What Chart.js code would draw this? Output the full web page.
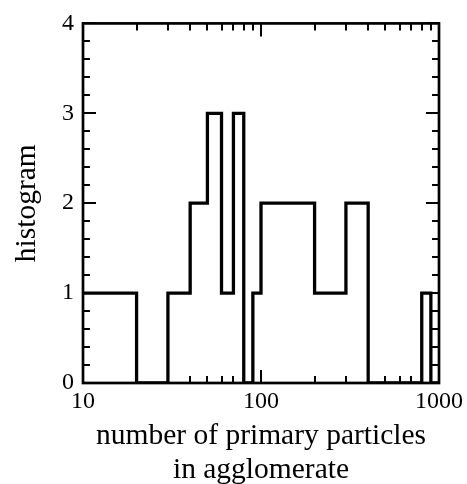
<!DOCTYPE html>
<html>
<head>
<meta charset="utf-8">
<script src="https://cdn.jsdelivr.net/npm/chart.js@4/dist/chart.umd.min.js"></script>
<style>
  html, body { margin: 0; padding: 0; background: #fff; }
  canvas { display: block; }
</style>
</head>
<body>
<canvas id="chart" width="467" height="484"></canvas>
<script>
// bin edges (number of primary particles) and the count in each bin
const binEdges = [10, 20, 30, 40, 50, 60, 70, 80, 90, 100, 200, 300, 400, 500, 600, 700, 800, 900, 1000];
const binCounts = [1, 0, 1, 2, 3, 1, 3, 0, 1, 2, 1, 2, 0, 0, 0, 0, 1, 0];

const xTickLabels = [10, 100, 1000];
const yTickLabels = [0, 1, 2, 3, 4];

const FONT = "'Liberation Serif', 'Times New Roman', serif";

// step points: each bin starts at its left edge, last point closes the last bin
const points = binCounts.map((c, i) => ({ x: binEdges[i], y: c }));
points.push({ x: binEdges[binEdges.length - 1], y: binCounts[binCounts.length - 1] });

// frame + inward ticks on all four sides
const frameTicks = {
  id: 'frameTicks',
  afterDatasetsDraw(chart) {
    const { ctx, chartArea: a, scales: { x, y } } = chart;
    ctx.save();
    ctx.strokeStyle = '#000';
    ctx.lineWidth = 2;
    ctx.beginPath();
    // y ticks every 0.2, major every 1
    for (let i = 0; i <= 20; i++) {
      const v = i / 5;
      const py = Math.round(y.getPixelForValue(v));
      const len = i % 5 === 0 ? 13 : 7;
      ctx.moveTo(a.left, py); ctx.lineTo(a.left + len, py);
      ctx.moveTo(a.right, py); ctx.lineTo(a.right - len, py);
    }
    // x ticks: decades major, 2..9 minor
    for (let d = 10; d < 1000; d *= 10) {
      for (let m = 1; m <= 10; m++) {
        const v = d * m;
        const px = Math.round(x.getPixelForValue(v));
        const len = (m === 1 || m === 10) ? 13 : 7;
        ctx.moveTo(px, a.bottom); ctx.lineTo(px, a.bottom - len);
        ctx.moveTo(px, a.top); ctx.lineTo(px, a.top + len);
      }
    }
    ctx.stroke();
    ctx.lineWidth = 2.7;
    ctx.strokeRect(a.left, a.top, a.right - a.left, a.bottom - a.top);
    ctx.restore();
  }
};

new Chart(document.getElementById('chart'), {
  type: 'line',
  data: {
    datasets: [{
      data: points,
      stepped: true,
      borderColor: '#000',
      borderWidth: 3.3,
      pointRadius: 0,
      fill: false
    }]
  },
  options: {
    responsive: false,
    animation: false,
    layout: { padding: { top: 23, right: 28, left: 0, bottom: 0 } },
    plugins: { legend: { display: false }, tooltip: { enabled: false } },
    scales: {
      x: {
        type: 'logarithmic',
        min: 10,
        max: 1000,
        grid: { display: false, drawTicks: false },
        border: { display: false },
        afterBuildTicks(scale) {
          scale.ticks = xTickLabels.map(v => ({ value: v, major: true }));
        },
        afterFit(scale) { scale.height = 101; },
        ticks: {
          autoSkip: false,
          maxRotation: 0,
          padding: 4,
          color: '#000',
          font: { family: FONT, size: 24 },
          callback: v => String(v)
        },
        title: {
          display: true,
          text: ['number of primary particles', 'in agglomerate'],
          color: '#000',
          font: { family: FONT, size: 29.5, lineHeight: 1.15 },
          padding: { top: 0, bottom: -3 }
        }
      },
      y: {
        min: 0,
        max: 4,
        grid: { display: false, drawTicks: false },
        border: { display: false },
        afterBuildTicks(scale) {
          scale.ticks = yTickLabels.map(v => ({ value: v }));
        },
        afterFit(scale) { scale.width = 83; },
        ticks: {
          padding: 9,
          color: '#000',
          font: { family: FONT, size: 24 },
          callback: v => String(v)
        },
        title: {
          display: true,
          text: 'histogram',
          color: '#000',
          font: { family: FONT, size: 29.5, lineHeight: 1.15 },
          padding: { top: 10, bottom: 0 }
        }
      }
    }
  },
  plugins: [frameTicks]
});
</script>
</body>
</html>
